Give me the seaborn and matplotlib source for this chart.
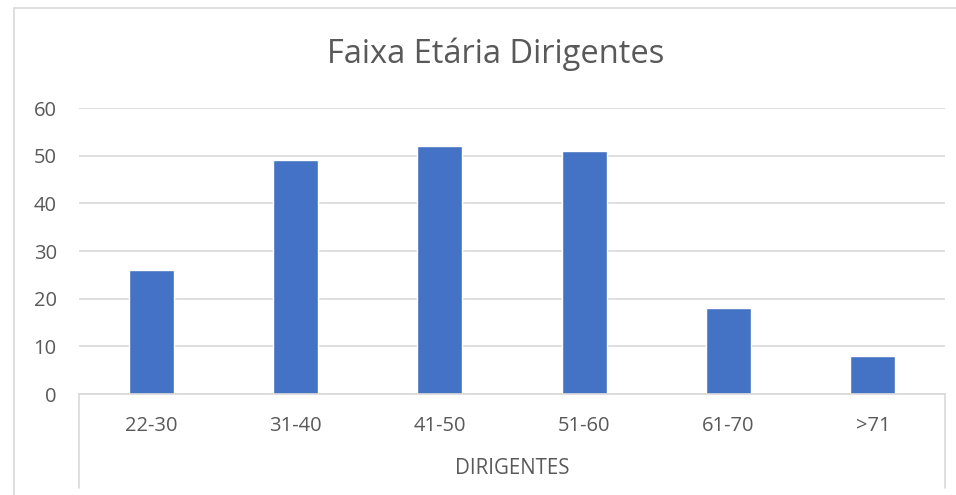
import matplotlib
matplotlib.use("Agg")
import matplotlib.pyplot as plt
import seaborn as sns
import pandas as pd
from matplotlib.lines import Line2D

categories = ["22-30", "31-40", "41-50", "51-60", "61-70", ">71"]
values = [26, 49, 52, 51, 18, 8]
y_ticks = [0, 10, 20, 30, 40, 50, 60]
title = "Faixa Etária Dirigentes"
axis_title = "DIRIGENTES"

sns.set_theme(style="white")
plt.rcParams['font.family'] = ['Open Sans', 'DejaVu Sans']

W, H = 956, 495
fig = plt.figure(figsize=(W / 100, H / 100), dpi=100)
fig.patch.set_facecolor("white")

x0, x1, y0, y1 = 79, 945, 394, 108
ax = fig.add_axes([x0 / W, 1 - y0 / H, (x1 - x0) / W, (y0 - y1) / H])

df = pd.DataFrame({"cat": categories, "val": values})
sns.barplot(data=df, x="cat", y="val", color="#4472C4", width=0.31,
            saturation=1, ax=ax)

ax.set_ylim(0, 60)
ax.set_xlim(-0.5, len(categories) - 0.5)
ax.set_yticks(y_ticks)
ax.set_yticklabels([str(t) for t in y_ticks])
ax.yaxis.grid(True, color="#D9D9D9", linewidth=1.2)
ax.set_axisbelow(True)
for s in ["top", "right", "left"]:
    ax.spines[s].set_visible(False)
ax.spines["bottom"].set_color("#D9D9D9")
ax.spines["bottom"].set_linewidth(1.2)
ax.tick_params(axis="y", length=0, pad=16, labelsize=14.5, labelcolor="#595959")
ax.tick_params(axis="x", length=0, pad=16, labelsize=14.5, labelcolor="#595959")
ax.set_xlabel("")
ax.set_ylabel("")

# category axis separators
tr = ax.get_xaxis_transform()
for xv in [-0.5, len(categories) - 0.5]:
    ax.add_line(Line2D([xv, xv], [0, -0.33], transform=tr, color="#D9D9D9",
                       linewidth=1.2, clip_on=False))

ax.text(0.5, -0.262, axis_title, transform=ax.transAxes, ha="center",
        va="center", fontsize=14.8, color="#595959")

fig.text(496 / W, 1 - 63 / H, title, ha="center", va="baseline", fontsize=23.5,
         color="#595959")

# chart border (partially visible)
fig.add_artist(Line2D([14 / W, 14 / W], [0, 1 - 8 / H], transform=fig.transFigure,
                      color="#D9D9D9", linewidth=1.2))
fig.add_artist(Line2D([14 / W, 1], [1 - 8 / H, 1 - 8 / H], transform=fig.transFigure,
                      color="#D9D9D9", linewidth=1.2))

fig.savefig("out.png", dpi=100)
